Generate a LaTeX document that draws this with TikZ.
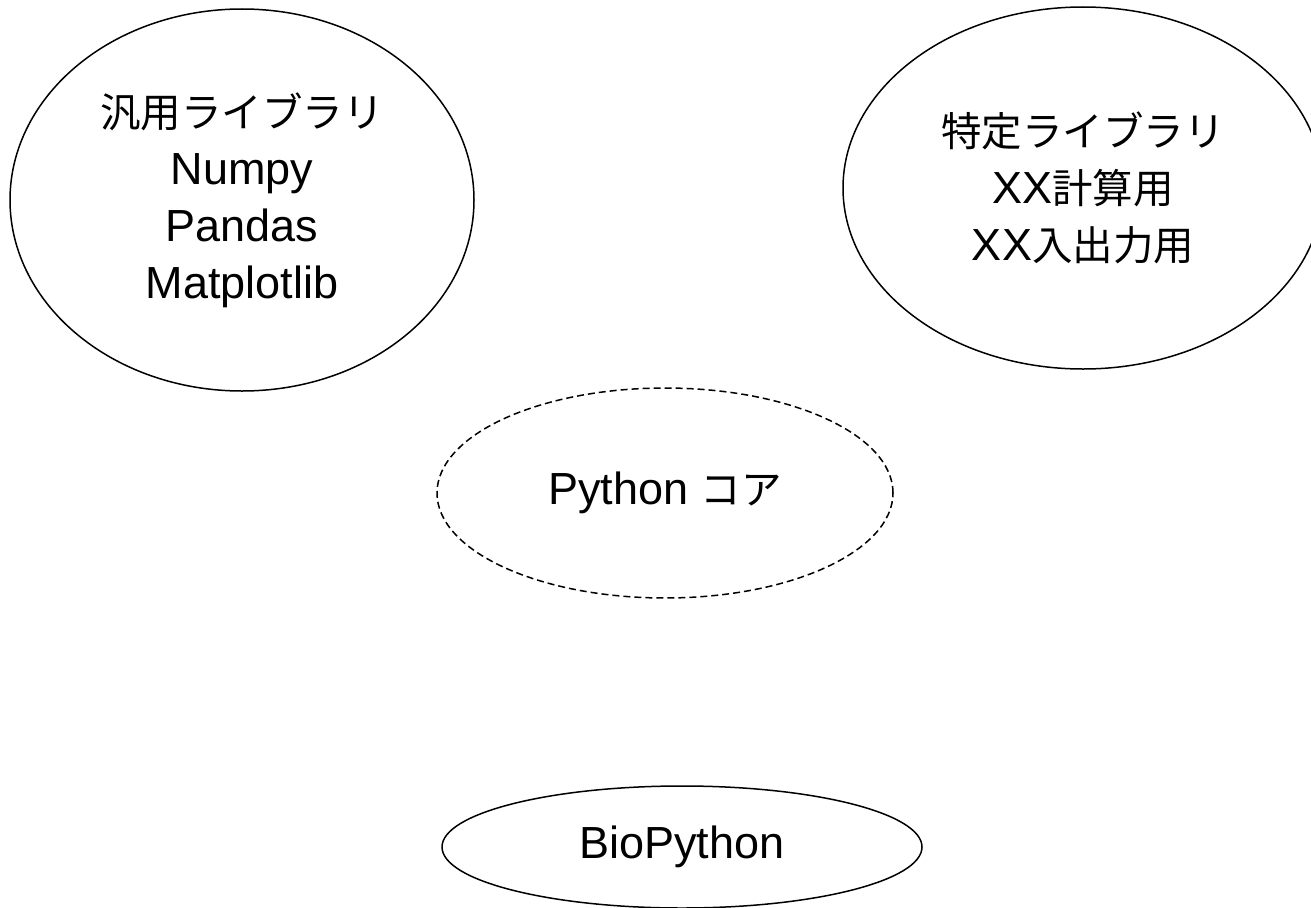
\documentclass[tikz,border=0pt]{standalone}
\usepackage{fontspec}
\setmainfont{Liberation Sans}
\newfontfamily\jp[Scale=0.9]{Noto Sans CJK JP}
\usetikzlibrary{shapes.geometric}
\begin{document}
\begin{tikzpicture}[x=1pt,y=-1pt,
  bubble/.style={ellipse, draw=black, line width=1.5pt, inner sep=0pt,
    align=center, font=\fontsize{45}{57}\selectfont},
  corebubble/.style={bubble, dash pattern=on 7pt off 4pt}]
  \useasboundingbox (0,0) rectangle (1311,907);
  \clip (0,0) rectangle (1311,907);
  % general-purpose libraries
  \node[bubble, minimum width=464pt, minimum height=382pt] (general) at (242,200)
    {{\jp 汎用ライブラリ}\\Numpy\\Pandas\\Matplotlib};
  % domain-specific libraries
  \node[bubble, minimum width=480pt, minimum height=362pt] (specific) at (1083,188)
    {{\jp 特定ライブラリ}\\XX{\jp 計算用}\\XX{\jp 入出力用}};
  % the core language
  \node[corebubble, minimum width=456pt, minimum height=210pt] (core) at (665,493)
    {Python {\jp コア}};
  % BioPython package
  \node[bubble, minimum width=480pt, minimum height=122pt] (bio) at (682,847)
    {BioPython};
\end{tikzpicture}
\end{document}
